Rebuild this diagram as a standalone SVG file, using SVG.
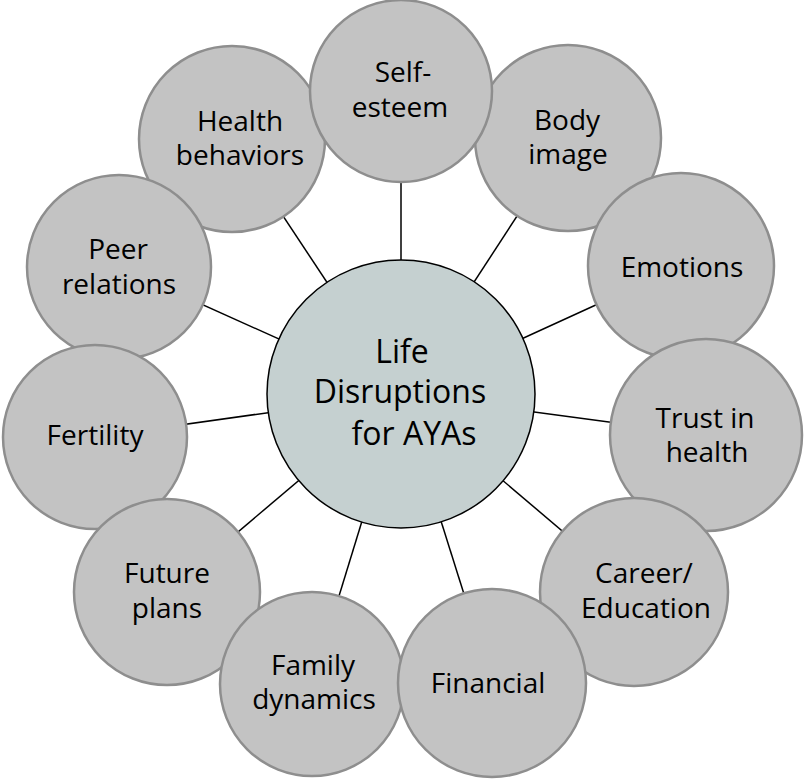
<svg xmlns="http://www.w3.org/2000/svg" width="805" height="780" viewBox="0 0 805 780">
<style>
.n circle{fill:#c3c3c3;stroke:#8e8e8e;stroke-width:2.5}
.t{font-family:"Open Sans","Liberation Sans",sans-serif;font-size:28px;fill:#000;text-anchor:middle}
.c{font-family:"Open Sans","Liberation Sans",sans-serif;font-size:32px;fill:#000;text-anchor:middle}
#conn line{stroke:#000;stroke-width:1.5}
</style>
<rect width="805" height="780" fill="#fff"/>
<g id="conn">
<line x1="401" y1="394" x2="401" y2="91"/>
<line x1="401" y1="394" x2="568" y2="138"/>
<line x1="401" y1="394" x2="681" y2="266"/>
<line x1="401" y1="394" x2="706" y2="435"/>
<line x1="401" y1="394" x2="634" y2="592"/>
<line x1="401" y1="394" x2="492" y2="683"/>
<line x1="401" y1="394" x2="312" y2="684"/>
<line x1="401" y1="394" x2="167" y2="592"/>
<line x1="401" y1="394" x2="95" y2="437"/>
<line x1="401" y1="394" x2="119" y2="267"/>
<line x1="401" y1="394" x2="232" y2="139"/>
</g>
<g id="health" class="n"><circle cx="232" cy="139" r="93"/><text class="t" x="240" y="131">Health</text><text class="t" x="240" y="165">behaviors</text></g>
<g id="body" class="n"><circle cx="568" cy="138" r="93"/><text class="t" x="567" y="130">Body</text><text class="t" x="568" y="164">image</text></g>
<g id="self" class="n"><circle cx="401" cy="91" r="91"/><text class="t" x="403" y="82">Self-</text><text class="t" x="400" y="117">esteem</text></g>
<g id="peer" class="n"><circle cx="119" cy="267" r="92"/><text class="t" x="118" y="259">Peer</text><text class="t" x="119" y="294">relations</text></g>
<g id="emotions" class="n"><circle cx="681" cy="266" r="93"/><text class="t" x="682" y="277">Emotions</text></g>
<g id="fertility" class="n"><circle cx="95" cy="437" r="92"/><text class="t" x="95" y="445">Fertility</text></g>
<g id="trust" class="n"><circle cx="706" cy="435" r="96"/><text class="t" x="705" y="428">Trust in</text><text class="t" x="707" y="462">health</text></g>
<g id="future" class="n"><circle cx="167" cy="592" r="93"/><text class="t" x="167" y="583">Future</text><text class="t" x="167" y="618">plans</text></g>
<g id="career" class="n"><circle cx="634" cy="592" r="94"/><text class="t" x="644" y="583">Career/</text><text class="t" x="646" y="618">Education</text></g>
<g id="family" class="n"><circle cx="312" cy="684" r="92"/><text class="t" x="313" y="675">Family</text><text class="t" x="314" y="709">dynamics</text></g>
<g id="financial" class="n"><circle cx="492" cy="683" r="94"/><text class="t" x="488" y="693">Financial</text></g>
<g id="center"><circle cx="401" cy="394" r="134" fill="#c5d0d0" stroke="#000" stroke-width="1.5"/><text class="c" x="402" y="363">Life</text><text class="c" x="400" y="403">Disruptions</text><text class="c" x="414" y="445">for AYAs</text></g>
</svg>
